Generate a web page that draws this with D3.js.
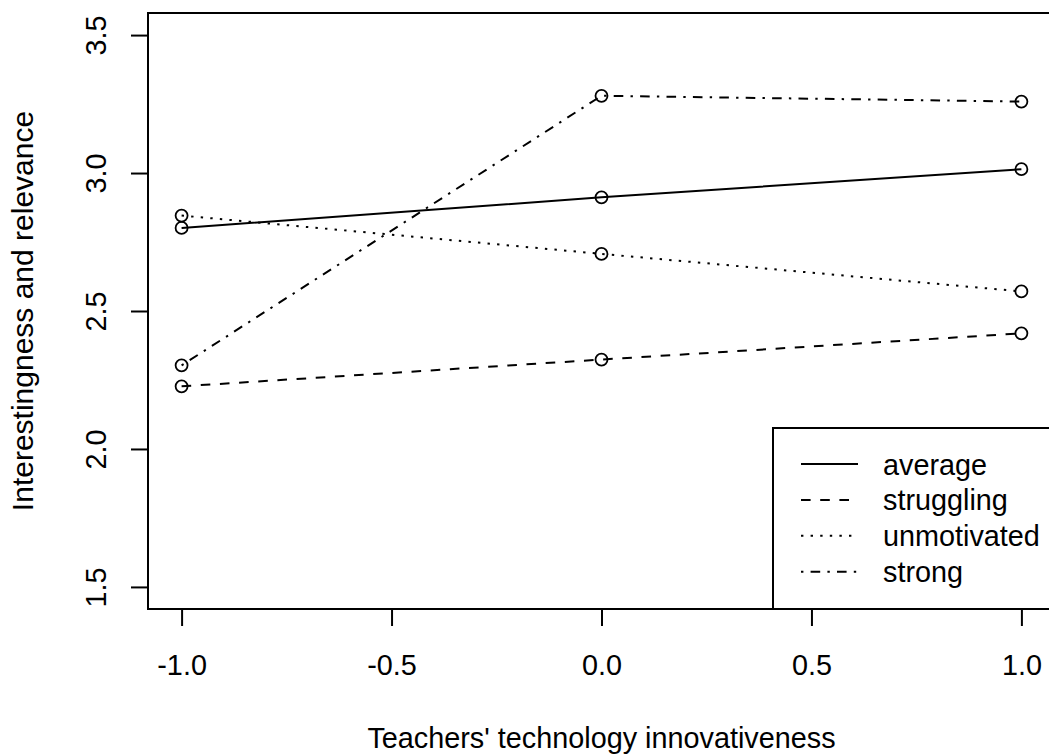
<!DOCTYPE html>
<html>
<head>
<meta charset="utf-8">
<script src="https://cdn.jsdelivr.net/npm/d3@7"></script>
<style>
  body { margin: 0; background: #fff; }
  svg { display: block; font-family: "Liberation Sans", Arial, sans-serif; }
  .tick text { font-size: 28.8px; fill: #000; }
  .tick line { stroke: #000; stroke-width: 2; }
</style>
</head>
<body>
<div class="chart-div"></div>
<script>
// data
var x_values = [-1, 0, 1];
var average = [2.801, 2.912, 3.014];
var struggling = [2.227, 2.324, 2.419];
var unmotivated = [2.846, 2.707, 2.571];
var strong = [2.303, 3.280, 3.259];
var series_names = ['average', 'struggling', 'unmotivated', 'strong'];
var x_ticks = [-1.0, -0.5, 0.0, 0.5, 1.0];
var y_ticks = [1.5, 2.0, 2.5, 3.0, 3.5];

var series = [average, struggling, unmotivated, strong];
// R lty 1..4 at this resolution
var dashes = ['none', '9.6,9.6', '2.4,7.2', '2.4,7.2,9.6,7.2'];

var W = 1049, H = 756,
    plot_left = 148, plot_right = 1055, plot_top = 13, plot_bottom = 609,
    tick_len = 17,
    font_size = 28.8;

// R prints a plain hyphen, not the unicode minus
var fmt = function(d) { return d.toFixed(1); };

var svg = d3.select('.chart-div')
  .append('svg')
  .attr('width', W)
  .attr('height', H);

var x = d3.scaleLinear().domain([-1.08, 1.08]).range([plot_left, plot_right]);
var y = d3.scaleLinear().domain([1.42, 3.58]).range([plot_bottom, plot_top]);

// x axis
var xaxis = svg.append('g')
  .attr('transform', 'translate(0,' + plot_bottom + ')')
  .call(d3.axisBottom(x).tickValues(x_ticks).tickSize(tick_len).tickFormat(fmt));
xaxis.select('.domain').remove();
xaxis.selectAll('.tick text').attr('y', 66).attr('dy', 0);

// y axis, labels parallel to axis like R
var yaxis = svg.append('g')
  .attr('transform', 'translate(' + plot_left + ',0)')
  .call(d3.axisLeft(y).tickValues(y_ticks).tickSize(tick_len).tickFormat(fmt));
yaxis.select('.domain').remove();
yaxis.selectAll('.tick text')
  .attr('x', null).attr('dy', null)
  .attr('text-anchor', 'middle')
  .attr('transform', 'translate(-42,0) rotate(-90)');

// box
svg.append('rect')
  .attr('x', plot_left)
  .attr('y', plot_top)
  .attr('width', plot_right - plot_left)
  .attr('height', plot_bottom - plot_top)
  .attr('fill', 'none')
  .attr('stroke', '#000')
  .attr('stroke-width', 2);

// lines and points
var line = d3.line()
  .x(function(d, i) { return x(x_values[i]); })
  .y(function(d) { return y(d); });

series.forEach(function(s, k) {
  svg.append('path')
    .datum(s)
    .attr('d', line)
    .attr('fill', 'none')
    .attr('stroke', '#000')
    .attr('stroke-width', 2)
    .attr('stroke-dasharray', dashes[k]);

  svg.selectAll('.pt' + k)
    .data(s)
    .enter().append('circle')
    .attr('class', 'pt' + k)
    .attr('cx', function(d, i) { return x(x_values[i]); })
    .attr('cy', function(d) { return y(d); })
    .attr('r', 6)
    .attr('fill', 'none')
    .attr('stroke', '#000')
    .attr('stroke-width', 1.8);
});

// axis titles
svg.append('text')
  .attr('x', (plot_left + plot_right) / 2)
  .attr('y', 748)
  .attr('text-anchor', 'middle')
  .style('font-size', font_size + 'px')
  .text("Teachers' technology innovativeness");

svg.append('text')
  .attr('transform', 'translate(33,' + ((plot_top + plot_bottom) / 2) + ') rotate(-90)')
  .attr('text-anchor', 'middle')
  .style('font-size', '30px')
  .text('Interestingness and relevance');

// legend, bottom right inside the box
var leg_left = 773, leg_top = 428, row_h = 35.9, first_row = 464;

svg.append('rect')
  .attr('x', leg_left)
  .attr('y', leg_top)
  .attr('width', plot_right - leg_left)
  .attr('height', plot_bottom - leg_top)
  .attr('fill', '#fff')
  .attr('stroke', '#000')
  .attr('stroke-width', 2);

var rows = svg.selectAll('.legend-row')
  .data(series_names)
  .enter().append('g')
  .attr('class', 'legend-row')
  .attr('transform', function(d, i) { return 'translate(0,' + (first_row + i * row_h) + ')'; });

rows.append('line')
  .attr('x1', 801).attr('x2', 858)
  .attr('y1', 0).attr('y2', 0)
  .attr('stroke', '#000')
  .attr('stroke-width', 2)
  .attr('stroke-dasharray', function(d, i) { return dashes[i]; });

rows.append('text')
  .attr('x', 883)
  .attr('y', 10.5)
  .style('font-size', font_size + 'px')
  .text(function(d) { return d; });
</script>
</body>
</html>
